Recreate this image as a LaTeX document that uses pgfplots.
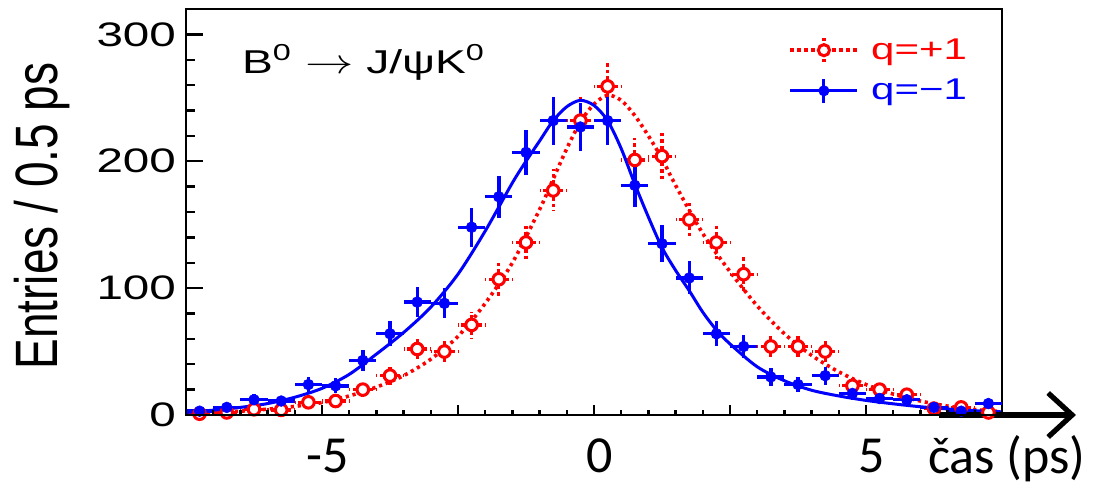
\documentclass[border=0pt]{standalone}
\usepackage{fontspec}
\setmainfont{Liberation Sans}
\newfontfamily\calib{Carlito}
\usepackage{graphicx}
\usepackage{pgfplots}
\usepackage{pgfplotstable}
\pgfplotsset{compat=1.18}
\usetikzlibrary{arrows.meta}
\definecolor{qred}{HTML}{FF0000}
\definecolor{qblue}{HTML}{0000FF}
\newcommand{\sx}[1]{\scalebox{1.4}[1]{#1}}

% q=-1 (blue) points: x y ex ey
\pgfplotstableread{
x y ex ey
-7.25 3 0.25 2.2
-6.75 6 0.25 3.1
-6.25 12 0.25 4.3
-5.75 11 0.25 4.1
-5.25 24 0.25 6.1
-4.75 23 0.25 6.0
-4.25 43 0.25 8.2
-3.75 64 0.25 10.0
-3.25 89 0.25 11.8
-2.75 88 0.25 11.7
-2.25 148 0.25 15.2
-1.75 172 0.25 16.4
-1.25 207 0.25 18.0
-0.75 232 0.25 19.0
-0.25 227 0.25 18.8
0.25 232 0.25 19.0
0.75 181 0.25 16.8
1.25 135 0.25 14.5
1.75 108 0.25 13.0
2.25 64 0.25 10.0
2.75 54 0.25 9.2
3.25 30 0.25 6.8
3.75 24 0.25 6.1
4.25 31 0.25 7.0
4.75 17 0.25 5.2
5.25 13 0.25 4.5
5.75 12 0.25 4.3
6.25 6 0.25 3.1
6.75 3 0.25 2.2
7.25 9 0.25 3.8
}\bluedata

% q=+1 (red) points
\pgfplotstableread{
x y ex ey
-7.25 1 0.25 1.3
-6.75 2 0.25 1.8
-6.25 4.5 0.25 2.7
-5.75 4 0.25 2.5
-5.25 10 0.25 4.0
-4.75 11 0.25 4.1
-4.25 20 0.25 5.6
-3.75 31 0.25 7.0
-3.25 52 0.25 9.0
-2.75 50 0.25 8.8
-2.25 71 0.25 10.5
-1.75 107 0.25 12.9
-1.25 136 0.25 14.6
-0.75 177 0.25 16.6
-0.25 232 0.25 19.0
0.25 259 0.25 20.1
0.75 201 0.25 17.7
1.25 204 0.25 17.9
1.75 154 0.25 15.5
2.25 136 0.25 14.6
2.75 111 0.25 13.2
3.25 54 0.25 9.2
3.75 54 0.25 9.2
4.25 50 0.25 8.8
4.75 23 0.25 6.0
5.25 20 0.25 5.6
5.75 16 0.25 5.0
6.25 5 0.25 2.8
6.75 6 0.25 3.1
7.25 2 0.25 1.8
}\reddata

\tikzset{
  redcurve/.style={qred, line width=1.8pt, dash pattern=on 1.6pt off 1.9pt},
  bluecurve/.style={qblue, line width=1.5pt},
}

\begin{document}
\begin{tikzpicture}
\useasboundingbox (-93pt,-35.5pt) rectangle (456pt,207.5pt);
\begin{axis}[
  at={(0,0)}, anchor=south west,
  scale only axis, width=408pt, height=203pt,
  xmin=-7.5, xmax=7.5, ymin=0, ymax=320,
  clip=false,
  axis line style={line width=1.3pt},
  tick pos=left, tick align=inside,
  xtick=\empty,
  ytick={0,100,200,300}, minor y tick num=4,
  yticklabels={\sx{0},\sx{100},\sx{200},\sx{300}},
  yticklabel style={font=\fontsize{17}{19}\selectfont, anchor=east, xshift=-1.5pt},
  major tick length=8.5pt, minor tick length=4.5pt,
  tick style={line width=1.2pt, black},
  ylabel={\scalebox{1}[1.3]{Entries / 0.5 ps}},
  ylabel style={font=\fontsize{23}{26}\selectfont, at={(axis description cs:-0.157,0.49)}, anchor=base, rotate=0},
  legend style={draw=none, fill=none, at={(axis description cs:0.738,0.8485)}, anchor=west,
    inner sep=0pt, row sep=6.5pt, column sep=5pt,
    font=\fontsize{15}{17}\selectfont, nodes={inner sep=1pt, anchor=west}},
  legend cell align=left,
  legend image code/.code={
    \draw[#1] (0pt,0pt) -- (33.5pt,0pt);
    \draw[#1] (16.75pt,-6pt) -- (16.75pt,6pt);
    \path[#1] plot coordinates {(16.75pt,0pt)};
  },
]
% legend entries
\addlegendimage{redcurve, mark=*, mark size=2.8pt, mark options={solid, draw=qred, fill=white, line width=1.5pt}}
\addlegendentry{\textcolor{qred}{\sx{q=+1}}}
\addlegendimage{bluecurve, mark=*, mark size=2.6pt, mark options={solid, draw=qblue, fill=qblue, line width=0.3pt}}
\addlegendentry{\textcolor{qblue}{\sx{q=−1}}}

% red data
\addplot[forget plot, only marks, qred, mark=*, mark size=2.9pt,
  mark options={draw=qred, fill=white, line width=1.5pt},
  error bars/.cd, x dir=both, x explicit, y dir=both, y explicit, error mark=none,
  error bar style={qred, line width=1.6pt, dash pattern=on 1.8pt off 1.5pt}]
  table[x=x, y=y, x error=ex, y error=ey] {\reddata};
\addplot[forget plot, redcurve, smooth, tension=0.5] coordinates {
(-7.5,1) (-7.0,1.9) (-6.5,3.0) (-6.0,4.6) (-5.5,6.8) (-5.0,9.8) (-4.5,15) (-4.0,22)
(-3.5,31) (-3.0,44) (-2.5,62) (-2.0,88) (-1.5,120) (-1.0,162) (-0.75,186) (-0.5,210)
(-0.25,231) (0,245) (0.25,252) (0.5,248) (0.75,236) (1.0,220) (1.25,202) (1.5,181)
(2.0,143) (2.5,113) (3.0,86) (3.5,64) (4.0,47) (4.5,34) (5.0,24) (5.5,16.5)
(6.0,11) (6.5,7) (7.0,4.3) (7.5,2.6)};

% blue data
\addplot[forget plot, only marks, qblue, mark=*, mark size=2.7pt,
  mark options={draw=qblue, fill=qblue, line width=0.3pt},
  error bars/.cd, x dir=both, x explicit, y dir=both, y explicit, error mark=none,
  error bar style={qblue, line width=1.7pt}]
  table[x=x, y=y, x error=ex, y error=ey] {\bluedata};
\addplot[forget plot, bluecurve, smooth, tension=0.5] coordinates {
(-7.5,2) (-7.0,3.8) (-6.5,6) (-6.0,9) (-5.5,14) (-5.0,21) (-4.5,32) (-4.0,48)
(-3.5,65) (-3.0,85) (-2.5,111) (-2.0,145) (-1.5,183) (-1.25,200) (-1.0,216) (-0.75,232)
(-0.5,243) (-0.25,248) (0,244) (0.25,232) (0.5,210) (0.75,182) (1.0,156) (1.25,132)
(1.5,114) (1.75,98) (2.0,81) (2.25,67) (2.5,56) (3.0,38) (3.5,27) (4.0,19.5)
(4.5,15) (5.0,11.5) (5.5,8.8) (6.0,6.5) (6.5,4.8) (7.0,3.4) (7.5,2.5)};

\node[anchor=base west, font=\fontsize{16.5}{18}\selectfont]
  at (axis description cs:0.06,0.842) {\sx{B\textsuperscript{0} $\rightarrow$ J/ψK\textsuperscript{0}}};

\draw[line width=3pt, -{Straight Barb[length=12pt, width=22pt, line width=2.6pt]}]
  (axis cs:6.35,0) -- (axis cs:8.86,0);
\end{axis}

% x axis ticks and labels
\begin{axis}[
  at={(0,0)}, anchor=south west,
  scale only axis, width=408pt, height=203pt,
  xmin=-7.5, xmax=7.5, ymin=0, ymax=320,
  hide y axis, axis x line*=bottom,
  axis line style={line width=1.3pt, -},
  tick align=inside,
  xtick={-7.5,-5,-2.5,0,2.5,5,7.5}, minor x tick num=4,
  xticklabels={,-5,,0,,5,},
  major tick length=5pt, minor tick length=2.5pt,
  tick style={line width=1.2pt, black},
  xticklabel style={font=\calib\fontsize{26}{28}\selectfont, anchor=base, yshift=-29pt, xshift=3pt},
  xlabel={čas (ps)},
  xlabel style={font=\calib\fontsize{26}{28}\selectfont, at={(axis description cs:0.909,-0.143)}, anchor=base west, inner sep=0pt},
]
\end{axis}
\end{tikzpicture}
\end{document}
